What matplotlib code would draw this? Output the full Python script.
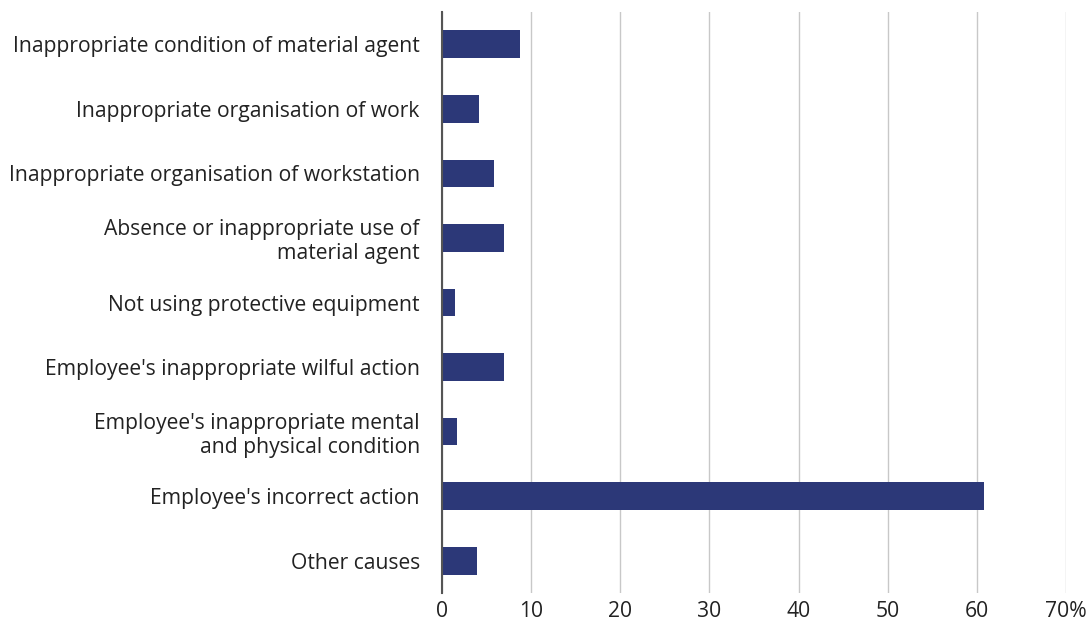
import matplotlib.pyplot as plt

# ─── DATA ─────────────────────────────────────────────────────────────────────
CAUSES = [
    "Inappropriate condition of material agent",
    "Inappropriate organisation of work",
    "Inappropriate organisation of workstation",
    "Absence or inappropriate use of\nmaterial agent",
    "Not using protective equipment",
    "Employee's inappropriate wilful action",
    "Employee's inappropriate mental\nand physical condition",
    "Employee's incorrect action",
    "Other causes",
]
SHARES = [8.8, 4.2, 5.8, 7.0, 1.5, 7.0, 1.7, 60.8, 3.9]
X_TICKS = [0, 10, 20, 30, 40, 50, 60, 70]
X_TICK_LABELS = ["0", "10", "20", "30", "40", "50", "60", "70%"]
# ──────────────────────────────────────────────────────────────────────────────

plt.rcParams["font.family"] = ["Open Sans", "DejaVu Sans"]

fig = plt.figure(figsize=(10.88, 6.28), dpi=100)
ax = fig.add_axes([442 / 1088, 35 / 628, (1066 - 442) / 1088, (593 - 12) / 628])

positions = list(range(len(CAUSES)))
ax.barh(positions, SHARES, height=0.43, color="#2c3878", zorder=3)

ax.set_ylim(len(CAUSES) - 0.5, -0.5)
ax.set_xlim(0, 70)
ax.set_yticks(positions)
ax.set_yticklabels(CAUSES, fontsize=15.2, color="#222222", linespacing=1.15)
ax.set_xticks(X_TICKS)
ax.set_xticklabels(X_TICK_LABELS, fontsize=15.2, color="#222222")
ax.tick_params(axis="y", length=0, pad=16)
ax.tick_params(axis="x", length=0, pad=6)
for lbl in ax.get_yticklabels():
    lbl.set_horizontalalignment("right")
    lbl.set_multialignment("right")

ax.grid(axis="x", color="#c8c8c8", linewidth=1, zorder=0)
for side in ["top", "right", "bottom"]:
    ax.spines[side].set_visible(False)
ax.spines["left"].set_color("#555555")
ax.spines["left"].set_linewidth(1.5)
ax.spines["left"].set_zorder(4)

plt.savefig("out.png", dpi=100)
